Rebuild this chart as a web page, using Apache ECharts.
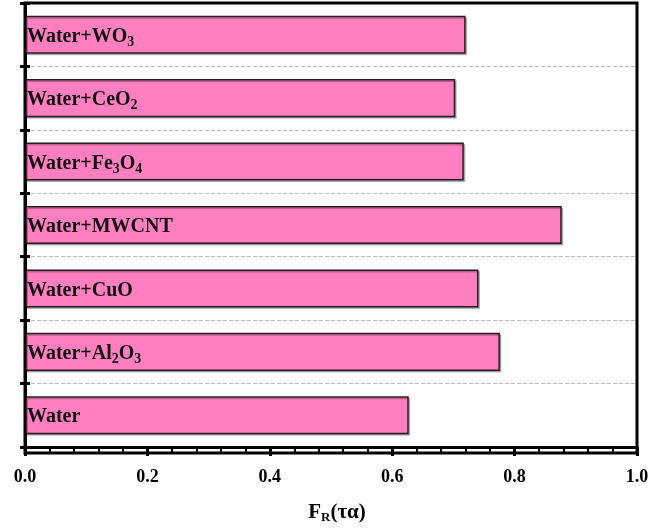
<!DOCTYPE html>
<html><head><meta charset="utf-8">
<script src="https://cdn.jsdelivr.net/npm/echarts@6/dist/echarts.min.js"></script>
<style>html,body{margin:0;padding:0;background:#fff}#c{width:667px;height:529px}</style>
</head><body><div id="c"></div>
<script>
var categories = ['Water', 'Water+Al2O3', 'Water+CuO', 'Water+MWCNT', 'Water+Fe3O4', 'Water+CeO2', 'Water+WO3'];
var values = [0.627, 0.776, 0.741, 0.877, 0.717, 0.703, 0.720];
var xTicks = [0.0, 0.2, 0.4, 0.6, 0.8, 1.0];

var FONT = 'Liberation Serif';
function richName(s) {
  return s.replace(/([^\d]+)|(\d+)/g, function (m, a, d) {
    return a ? '{b|' + a + '}' : '{s|' + d + '}';
  });
}
var chart = echarts.init(document.getElementById('c'));
var grid = {left: 25, right: 30, top: 3, bottom: 76};
chart.setOption({
  animation: false,
  grid: grid,
  xAxis: {
    type: 'value', min: 0, max: 1, interval: 0.2,
    axisLine: {show: true, lineStyle: {color: '#000', width: 3}},
    axisTick: {show: true, length: 9, lineStyle: {color: '#000', width: 3}},
    minorTick: {show: true, splitNumber: 5, length: 5, lineStyle: {color: '#000', width: 2}},
    splitLine: {show: false},
    axisLabel: {color: '#000', fontFamily: FONT, fontWeight: 'bold', fontSize: 18, margin: 21,
      formatter: function (v) { return xTicks.indexOf(+v.toFixed(1)) >= 0 ? v.toFixed(1) : ''; }},
    name: '{b|F}{s|R}{b|(τα)}', nameLocation: 'middle', nameGap: 54,
    nameTextStyle: {padding: [0, 0, 0, 12], rich: {
      b: {fontFamily: FONT, fontWeight: 'bold', fontSize: 21, color: '#000'},
      s: {fontFamily: FONT, fontWeight: 'bold', fontSize: 13, color: '#000', padding: [10, 0, 0, 0]}
    }}
  },
  yAxis: [{
    type: 'category', data: categories,
    axisLine: {show: true, lineStyle: {color: '#000', width: 3}},
    axisTick: {show: true, length: 5, lineStyle: {color: '#000', width: 3}},
    axisLabel: {show: false},
    splitLine: {show: true, lineStyle: {color: '#c0c0c0', type: 'dashed', width: 1}}
  }, {
    type: 'category', data: categories, position: 'left',
    axisLine: {show: false},
    axisTick: {show: true, inside: true, length: 5, lineStyle: {color: '#000', width: 3}},
    axisLabel: {show: false}, splitLine: {show: false}
  }],
  graphic: [{
    type: 'rect', silent: true, z: 100,
    shape: {x: 25, y: 3, width: 612, height: 450},
    style: {fill: 'none', stroke: '#000', lineWidth: 3}
  }],
  series: [{
    type: 'bar', data: values, barWidth: '60%',
    itemStyle: {color: '#ff7fc0', borderColor: '#2b1a22', borderWidth: 1.5,
      shadowColor: 'rgba(0,0,0,0.25)', shadowOffsetX: 1.5, shadowOffsetY: 1.5, shadowBlur: 0},
    label: {show: true, position: 'insideLeft', distance: 2, offset: [0, 2],
      formatter: function (p) { return richName(p.name); },
      rich: {
        b: {fontFamily: FONT, fontWeight: 'bold', fontSize: 20, color: '#111'},
        s: {fontFamily: FONT, fontWeight: 'bold', fontSize: 14, color: '#111', padding: [11, 0, 0, 0]}
      }}
  }]
});
</script></body></html>
